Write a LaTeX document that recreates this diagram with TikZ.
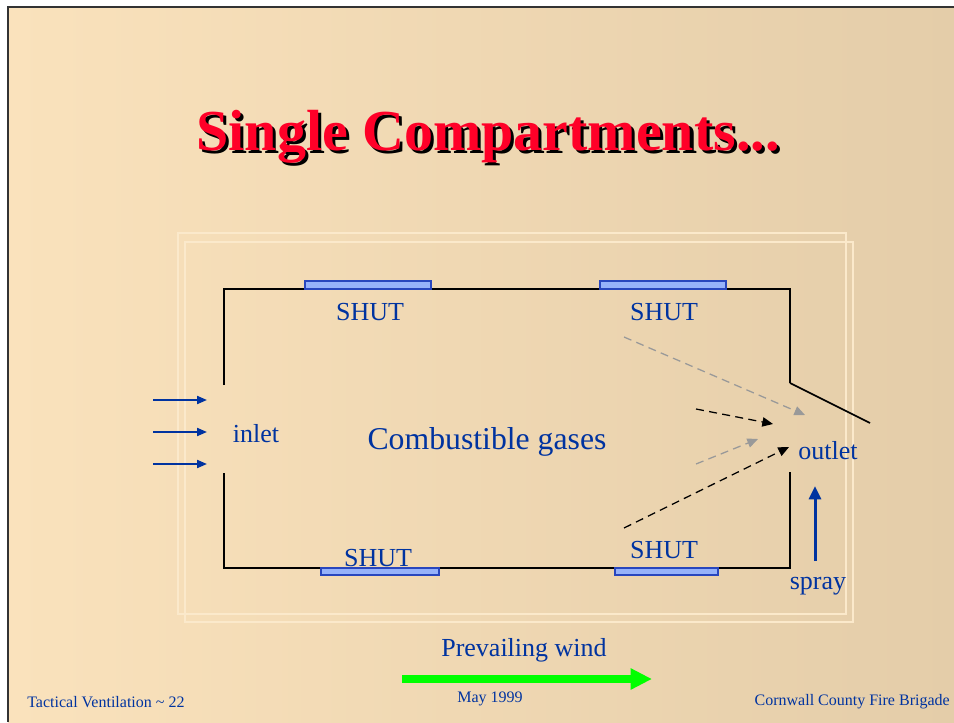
\documentclass[tikz,border=0pt]{standalone}
\usepackage{fontspec}
\setmainfont{Liberation Serif}
\usetikzlibrary{arrows.meta}

\definecolor{textblue}{RGB}{0,51,160}
\definecolor{titlered}{RGB}{255,0,40}
\definecolor{shutfill}{RGB}{150,178,250}
\definecolor{shutedge}{RGB}{40,70,190}
\definecolor{bgtl}{RGB}{250,226,188}
\definecolor{bgbr}{RGB}{228,205,169}
\definecolor{faintline}{RGB}{251,233,203}
\definecolor{windgreen}{RGB}{0,255,0}

\newcommand{\titletext}{Single Compartments...}

\tikzset{
  roomtext/.style={text=textblue, font=\fontsize{19.5}{22}\selectfont},
  foottext/.style={text=textblue, font=\fontsize{12}{14}\selectfont, inner sep=0pt},
  shutbox/.style={draw=shutedge, fill=shutfill, line width=1.1pt},
  wall/.style={line width=1.6pt, black},
  flowblack/.style={dash pattern=on 6pt off 4pt, line width=0.95pt, black, -{Triangle[length=8pt,width=7pt]}},
  flowgray/.style={dash pattern=on 6pt off 4pt, line width=0.95pt, gray!80, -{Triangle[length=8pt,width=7pt]}},
  inletarrow/.style={textblue, line width=1.5pt, -{Triangle[length=7.5pt,width=6pt]}}
}

\begin{document}
\begin{tikzpicture}[x=0.75pt,y=-0.75pt]
    \useasboundingbox (0,0) rectangle (954,722);
    % fondo de la diapositiva
    \fill[white] (0,0) rectangle (954,722);
    \shade[left color=bgtl, right color=bgbr] (8,7) rectangle (954,722);
    \draw[line width=1.5pt, black!80] (8,722) -- (8,7) -- (954,7);

    % marcos claros
    \draw[faintline, line width=0.9pt] (178,233) rectangle (846,614);
    \draw[faintline, line width=0.9pt] (185,242) rectangle (853,622);

    % titulo con sombra
    \node[text=titlered, font=\fontsize{43.5}{48}\selectfont\bfseries] (title) at (488,138)
        {\rlap{\hspace{2.3pt}\raisebox{-2.3pt}{\color{black}\titletext}}\titletext};

    % compartimento
    \draw[wall] (224,385) -- (224,289) -- (790,289) -- (790,383);
    \draw[line width=1.2pt] (790,383) -- (870,423);
    \draw[wall] (224,473) -- (224,568) -- (790,568) -- (790,472);

    % ventanas cerradas
    \draw[shutbox] (305,281) rectangle (431,289);
    \draw[shutbox] (600,281) rectangle (726,289);
    \draw[shutbox] (321,568) rectangle (439,575);
    \draw[shutbox] (615,568) rectangle (718,575);

    \node[roomtext] (shuttl) at (370,312) {SHUT};
    \node[roomtext] (shuttr) at (664,312) {SHUT};
    \node[roomtext] (shutbl) at (378,558) {SHUT};
    \node[roomtext] (shutbr) at (664,550) {SHUT};

    % entrada de aire
    \foreach \y in {400,432,464}
        \draw[inletarrow] (153,\y) -- (207,\y);
    \node[roomtext] (inlet) at (256,434) {inlet};

    \node[roomtext, font=\fontsize{23.8}{26}\selectfont] (gases) at (487,442) {Combustible gases};

    % flujo hacia la salida
    \coordinate (g1s) at (624,337);
    \coordinate (g1e) at (805,415);
    \coordinate (b1s) at (696,409);
    \coordinate (b1e) at (773,424);
    \coordinate (g2s) at (696,464);
    \coordinate (g2e) at (758,439);
    \coordinate (b2s) at (624,528);
    \coordinate (b2e) at (789,447);
    \draw[flowgray] (g1s) -- (g1e);
    \draw[flowblack] (b1s) -- (b1e);
    \draw[flowgray] (g2s) -- (g2e);
    \draw[flowblack] (b2s) -- (b2e);

    \node[roomtext] (outlet) at (828,451) {outlet};

    % chorro
    \node[roomtext] (spray) at (818,586) {spray};
    \coordinate (spraytip) at (815,486);
    \draw[textblue, line width=2.25pt, -{Triangle[length=10pt,width=9pt]}] (815,561) -- (spraytip);

    % viento
    \node[roomtext] (wind) at (524,650) {Prevailing wind};
    \coordinate (windstart) at (402,679);
    \coordinate (windend) at (652,679);
    \draw[windgreen, line width=6pt, -{Triangle[length=16pt,width=15pt]}] (windstart) -- (windend);

    % pie de pagina
    \node[foottext, anchor=west] (footleft) at (27,702) {Tactical Ventilation \textasciitilde{} 22};
    \node[foottext] (footmid) at (490,699) {May 1999};
    \node[foottext, anchor=east] (footright) at (950,702) {Cornwall County Fire Brigade};
\end{tikzpicture}
\end{document}
